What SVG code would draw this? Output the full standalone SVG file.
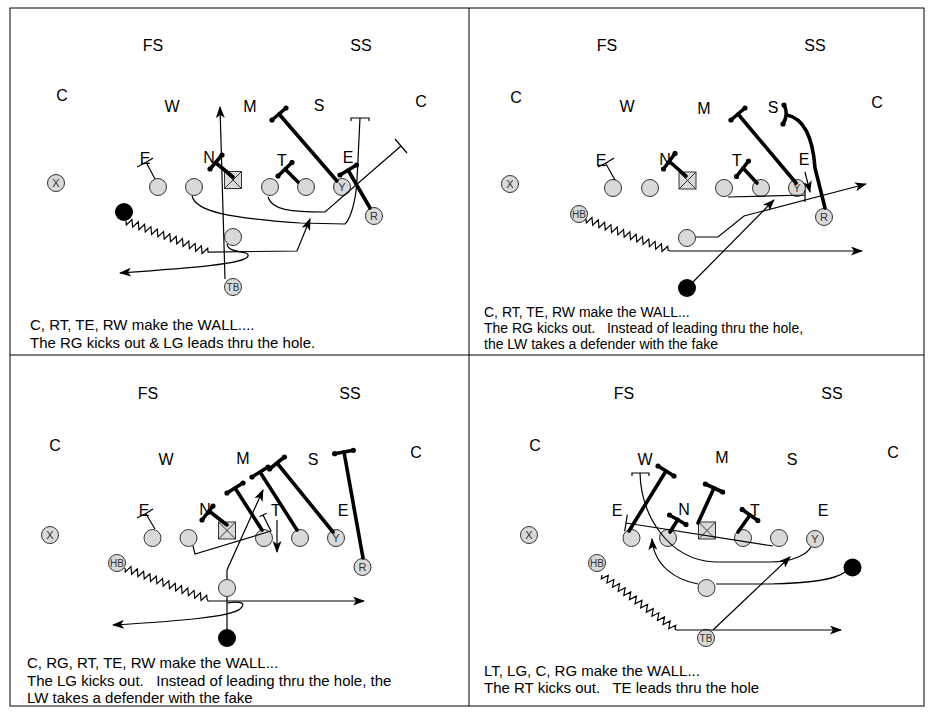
<svg xmlns="http://www.w3.org/2000/svg" width="931" height="713" viewBox="0 0 931 713">
<style>
.lbl{font-family:"Liberation Sans",Arial,sans-serif;font-size:16px;text-anchor:middle;fill:#000}
.cap{font-family:"Liberation Sans",Arial,sans-serif;font-size:15px;fill:#000;white-space:pre}
.cap2{font-family:"Liberation Sans",Arial,sans-serif;font-size:14px;fill:#000;white-space:pre}
.pl{fill:#d9d9d9;stroke:#333;stroke-width:1}
.bk{fill:#000}
.pt{font-family:"Liberation Sans",Arial,sans-serif;font-size:11px;text-anchor:middle;fill:#333}
.ps{font-family:"Liberation Sans",Arial,sans-serif;font-size:10px;text-anchor:middle;fill:#333}
.thin{fill:none;stroke:#000;stroke-width:1.2}
.arr{marker-end:url(#ah)}
.thick{fill:none;stroke:#000;stroke-width:3.6;stroke-linecap:round}
.bar{fill:none;stroke:#000;stroke-width:3.6;stroke-linecap:round;marker-start:url(#dt);marker-end:url(#dt)}
.frame{fill:none;stroke:#000;stroke-width:1}
</style>
<defs>
<marker id="ah" viewBox="0 0 12 9" refX="11" refY="4.5" markerWidth="12" markerHeight="9" markerUnits="userSpaceOnUse" orient="auto"><path d="M0,0 L12,4.5 L0,9 L3,4.5 z" fill="#000"/></marker>
<marker id="dt" viewBox="-3 -3 6 6" refX="0" refY="0" markerWidth="6" markerHeight="6" markerUnits="userSpaceOnUse"><circle r="2.6" fill="#000"/></marker>
<g id="boxC"><rect x="0" y="0" width="17" height="17" fill="#d9d9d9" stroke="#333" stroke-width="1"/><path d="M0,0 L17,17 M17,0 L0,17" stroke="#333" stroke-width="1"/></g>
</defs>
<rect width="931" height="713" fill="#fff"/>
<g id="frame">
<rect class="frame" x="10" y="8" width="914" height="698"/>
<line class="frame" x1="469" y1="8" x2="469" y2="706"/>
<line class="frame" x1="10" y1="355" x2="924" y2="355"/>
</g>

<!-- Quadrant 1 -->
<g id="q1-defense">
<text class="lbl" x="153" y="51">FS</text>
<text class="lbl" x="361" y="51">SS</text>
<text class="lbl" x="62" y="101">C</text>
<text class="lbl" x="421" y="107">C</text>
<text class="lbl" x="172" y="112">W</text>
<text class="lbl" x="250" y="112">M</text>
<text class="lbl" x="319" y="111">S</text>
<text class="lbl" x="145" y="164">E</text>
<text class="lbl" x="209" y="163">N</text>
<text class="lbl" x="282" y="166">T</text>
<text class="lbl" x="348" y="163">E</text>
</g>
<g id="q1-X"><circle class="pl" cx="56" cy="183" r="8.5"/><text class="pt" x="56" y="187">X</text></g>
<g id="q1-LT"><circle class="pl" cx="158" cy="187" r="8.5"/></g>
<g id="q1-LG"><circle class="pl" cx="194" cy="187" r="8.5"/></g>
<g id="q1-C"><use href="#boxC" x="224.5" y="171.5"/></g>
<g id="q1-RG"><circle class="pl" cx="270" cy="187" r="8.5"/></g>
<g id="q1-RT"><circle class="pl" cx="306" cy="187" r="8.5"/></g>
<g id="q1-Y"><circle class="pl" cx="342" cy="187" r="8.5"/><text class="pt" x="342" y="191">Y</text></g>
<g id="q1-R"><circle class="pl" cx="374" cy="216" r="8.5"/><text class="pt" x="374" y="220">R</text></g>
<g id="q1-LW"><circle class="bk" cx="124" cy="212" r="9"/></g>
<g id="q1-QB"><circle class="pl" cx="233" cy="237" r="8.5"/></g>
<g id="q1-TB"><circle class="pl" cx="233" cy="287" r="8.5"/><text class="ps" x="233" y="290.5">TB</text></g>
<text class="cap" x="30" y="330">C, RT, TE, RW make the WALL....</text>
<text class="cap" x="30" y="348">The RG kicks out &amp; LG leads thru the hole.</text>

<!-- Quadrant 2 -->
<g id="q2-defense">
<text class="lbl" x="607" y="51">FS</text>
<text class="lbl" x="815" y="51">SS</text>
<text class="lbl" x="516" y="103">C</text>
<text class="lbl" x="877" y="108">C</text>
<text class="lbl" x="627" y="112">W</text>
<text class="lbl" x="704" y="114">M</text>
<text class="lbl" x="773" y="113">S</text>
<text class="lbl" x="601" y="166">E</text>
<text class="lbl" x="665" y="165">N</text>
<text class="lbl" x="737" y="166">T</text>
<text class="lbl" x="804" y="165">E</text>
</g>
<g id="q2-X"><circle class="pl" cx="510" cy="184" r="8.5"/><text class="pt" x="510" y="188">X</text></g>
<g id="q2-LT"><circle class="pl" cx="613" cy="188" r="8.5"/></g>
<g id="q2-LG"><circle class="pl" cx="650" cy="188" r="8.5"/></g>
<g id="q2-C"><use href="#boxC" x="679" y="172"/></g>
<g id="q2-RG"><circle class="pl" cx="724" cy="188" r="8.5"/></g>
<g id="q2-RT"><circle class="pl" cx="761" cy="188" r="8.5"/></g>
<g id="q2-Y"><circle class="pl" cx="797" cy="188" r="8.5"/><text class="pt" x="797" y="192">Y</text></g>
<g id="q2-R"><circle class="pl" cx="824" cy="217" r="8.5"/><text class="pt" x="824" y="221">R</text></g>
<g id="q2-HB"><circle class="pl" cx="579" cy="214" r="8.5"/><text class="ps" x="579" y="217.5">HB</text></g>
<g id="q2-QB"><circle class="pl" cx="687" cy="238" r="8.5"/></g>
<g id="q2-LW"><circle class="bk" cx="687" cy="288" r="9"/></g>
<text class="cap2" x="484" y="317">C, RT, TE, RW make the WALL...</text>
<text class="cap2" x="484" y="333">The RG kicks out.   Instead of leading thru the hole,</text>
<text class="cap2" x="484" y="349">the LW takes a defender with the fake</text>

<!-- Quadrant 3 -->
<g id="q3-defense">
<text class="lbl" x="148" y="399">FS</text>
<text class="lbl" x="350" y="399">SS</text>
<text class="lbl" x="55" y="451">C</text>
<text class="lbl" x="416" y="458">C</text>
<text class="lbl" x="166" y="465">W</text>
<text class="lbl" x="243" y="464">M</text>
<text class="lbl" x="313" y="465">S</text>
<text class="lbl" x="144" y="516">E</text>
<text class="lbl" x="205" y="515">N</text>
<text class="lbl" x="276" y="516">T</text>
<text class="lbl" x="343" y="516">E</text>
</g>
<g id="q3-X"><circle class="pl" cx="50" cy="535" r="8.5"/><text class="pt" x="50" y="539">X</text></g>
<g id="q3-LT"><circle class="pl" cx="152.5" cy="538" r="8.5"/></g>
<g id="q3-LG"><circle class="pl" cx="188.5" cy="538" r="8.5"/></g>
<g id="q3-C"><use href="#boxC" x="218.5" y="522"/></g>
<g id="q3-RG"><circle class="pl" cx="264" cy="538" r="8.5"/></g>
<g id="q3-RT"><circle class="pl" cx="300" cy="538" r="8.5"/></g>
<g id="q3-Y"><circle class="pl" cx="336" cy="538" r="8.5"/><text class="pt" x="336" y="542">Y</text></g>
<g id="q3-R"><circle class="pl" cx="362.5" cy="567" r="8.5"/><text class="pt" x="362.5" y="571">R</text></g>
<g id="q3-HB"><circle class="pl" cx="117" cy="563" r="8.5"/><text class="ps" x="117" y="566.5">HB</text></g>
<g id="q3-QB"><circle class="pl" cx="227" cy="588" r="8.5"/></g>
<g id="q3-LW"><circle class="bk" cx="227" cy="638" r="9"/></g>
<text class="cap" x="27" y="668">C, RG, RT, TE, RW make the WALL...</text>
<text class="cap" x="27" y="686">The LG kicks out.   Instead of leading thru the hole, the</text>
<text class="cap" x="27" y="703">LW takes a defender with the fake</text>

<!-- Quadrant 4 -->
<g id="q4-defense">
<text class="lbl" x="624" y="399">FS</text>
<text class="lbl" x="832" y="399">SS</text>
<text class="lbl" x="535" y="451">C</text>
<text class="lbl" x="893" y="458">C</text>
<text class="lbl" x="645" y="465">W</text>
<text class="lbl" x="722" y="463">M</text>
<text class="lbl" x="792" y="465">S</text>
<text class="lbl" x="617" y="516">E</text>
<text class="lbl" x="684" y="515">N</text>
<text class="lbl" x="755" y="516">T</text>
<text class="lbl" x="823" y="516">E</text>
</g>
<g id="q4-X"><circle class="pl" cx="529" cy="535" r="8.5"/><text class="pt" x="529" y="539">X</text></g>
<g id="q4-LT"><circle class="pl" cx="631.5" cy="538" r="8.5"/></g>
<g id="q4-LG"><circle class="pl" cx="668" cy="538" r="8.5"/></g>
<g id="q4-C"><use href="#boxC" x="698.5" y="522"/></g>
<g id="q4-RG"><circle class="pl" cx="743" cy="538" r="8.5"/></g>
<g id="q4-RT"><circle class="pl" cx="779" cy="538" r="8.5"/></g>
<g id="q4-Y"><circle class="pl" cx="815" cy="539" r="8.5"/><text class="pt" x="815" y="543">Y</text></g>
<g id="q4-HB"><circle class="pl" cx="597" cy="563" r="8.5"/><text class="ps" x="597" y="566.5">HB</text></g>
<g id="q4-FB"><circle class="pl" cx="706.5" cy="588" r="8.5"/></g>
<g id="q4-TB"><circle class="pl" cx="706" cy="638" r="8.5"/><text class="ps" x="706" y="641.5">TB</text></g>
<g id="q4-LW"><circle class="bk" cx="852.5" cy="567.5" r="9"/></g>
<text class="cap" x="484" y="676">LT, LG, C, RG make the WALL...</text>
<text class="cap" x="484" y="693">The RT kicks out.   TE leads thru the hole</text>

<g id="connectors">
<!-- Q1 -->
<path class="thin" d="M155,179 L147,164 M137,167 Q146,163 153,158"/>
<path class="thick" d="M233,177 L216,163"/><path class="bar" d="M210,169 L222,155"/>
<path class="thick" d="M298,182 L285,169"/><path class="bar" d="M278,176 L292,162.5"/>
<path class="thick" d="M337,181 L279,114"/><path class="bar" d="M272,120 L286,108"/>
<path class="thick" d="M370,208 L348,170"/><path class="bar" d="M340,175 L356.5,165"/>
<path class="thin arr" d="M225,279 L220,107"/>
<path class="thin arr" d="M126,221 l0.34,3.87 l5.63,-5.35l0.68,7.74l5.63,-5.35l0.68,7.74l5.63,-5.35l0.68,7.74l5.63,-5.35l0.68,7.74l5.63,-5.35l0.68,7.74l5.63,-5.35l0.68,7.74l5.63,-5.35l0.68,7.74l5.63,-5.35l0.68,7.74l5.63,-5.35l0.68,7.74l5.63,-5.35l0.68,7.74l5.63,-5.35l0.68,7.74l5.63,-5.35l0.68,7.74 l5.63,-5.35 l0.34,3.87 L297,251 L310,219"/>
<path class="thin arr" d="M227,244 C228,254 250,250 248,256 C246,264 190,268 120,273"/>
<path class="thin" d="M192,196 C196,212 230,218 300,223 L345,224 C351,218 356,200 357,180 L360,118 M351,121 L351,118 L369,118 L369,121"/>
<path class="thin" d="M268,197 C272,210 290,212 325,212 L401,146 M395,139 L407,153"/>
<!-- Q2 -->
<path class="thin" d="M615,180 L606,164 M598,167 Q607,163 614,158"/>
<path class="thick" d="M686,176 L670,162"/><path class="bar" d="M663.5,169 L675,153.5"/>
<path class="thick" d="M757,183 L743,168"/><path class="bar" d="M736.5,176.5 L748.5,161"/>
<path class="thick" d="M796,183 L738,114"/><path class="bar" d="M731,120 L745,108"/>
<path class="thick" d="M825,208 L815,168 C813,140 806,119 787,115"/><path class="bar" d="M784,105 Q789,114 783,124"/>
<path class="thin arr" d="M805,172 L810,192"/>
<path class="thin" d="M728,197 L805,195 M805,190 L805,202"/>
<path class="thin arr" d="M586,219 l0.34,3.87 l5.63,-5.35l0.68,7.74l5.63,-5.35l0.68,7.74l5.63,-5.35l0.68,7.74l5.63,-5.35l0.68,7.74l5.63,-5.35l0.68,7.74l5.63,-5.35l0.68,7.74l5.63,-5.35l0.68,7.74l5.63,-5.35l0.68,7.74l5.63,-5.35l0.68,7.74l5.63,-5.35l0.68,7.74l5.63,-5.35l0.68,7.74l5.63,-5.35l0.68,7.74 l5.63,-5.35 l0.34,3.87 L670,251 L862,251"/>
<path class="thin arr" d="M696,237 L718,237 L744,216 L866,184"/>
<path class="thin arr" d="M693,282 L774,200"/>
<!-- Q3 -->
<path class="thin" d="M155,529 L146,514 M137,518 Q146,514 153,509"/>
<path class="thick" d="M227,525 L209,511"/><path class="bar" d="M202,520 L213,506"/>
<path class="thick" d="M262,530 L235,488"/><path class="bar" d="M227,493 L243,483"/>
<path class="thick" d="M297,530 L260,472"/><path class="bar" d="M252,477 L268,467"/>
<path class="thick" d="M333,532 L277,463"/><path class="bar" d="M269.6,469 L284.4,457"/>
<path class="thick" d="M363,558 L344,452"/><path class="bar" d="M334.7,453.7 L353.3,450.3"/>
<path class="thin arr" d="M277,520 L277,552"/>
<path class="thin" d="M193,546 L195,554 L271,531 L263,515 M259.4,516.8 L266.6,513.2"/>
<path class="thin arr" d="M227,579 L227,570 L263,490"/>
<path class="thin" d="M227,597 L227,630"/>
<path class="thin arr" d="M227,603 C238,601 248,602 240,609 C230,617 180,621 113,625"/>
<path class="thin arr" d="M125,568 l0.34,3.87 l5.63,-5.35l0.68,7.74l5.63,-5.35l0.68,7.74l5.63,-5.35l0.68,7.74l5.63,-5.35l0.68,7.74l5.63,-5.35l0.68,7.74l5.63,-5.35l0.68,7.74l5.63,-5.35l0.68,7.74l5.63,-5.35l0.68,7.74l5.63,-5.35l0.68,7.74l5.63,-5.35l0.68,7.74l5.63,-5.35l0.68,7.74l5.63,-5.35l0.68,7.74 l5.63,-5.35 l0.34,3.87 L208,601 L364,601"/>
<!-- Q4 -->
<path class="thin" d="M773,546 L626,523 M627.3,514.6 L624.7,531.4"/>
<path class="thick" d="M629,531 L666,471"/><path class="bar" d="M658,466 L674,476"/>
<path class="thick" d="M670,532 L678,519.5"/><path class="bar" d="M669.5,515 L686,524.5"/>
<path class="thick" d="M698,523 L714,488"/><path class="bar" d="M705.4,484 L722.6,492"/>
<path class="thick" d="M738,532 L750,515"/><path class="bar" d="M742.2,509.5 L757.8,520.5"/>
<path class="thin" d="M811,547 C808,553 795,562 770,562 L715,562 C668,560 641,515 640,473 M632,476 L632,473 L649,473 L649,476"/>
<path class="thin arr" d="M698,584 C676,580 654,566 652,539"/>
<path class="thin" d="M716,584 L770,584 C810,583 835,580 845,572"/>
<path class="thin arr" d="M602,575 l-0.68,3.85 l6.97,-3.54l-1.35,7.70l6.97,-3.54l-1.35,7.70l6.97,-3.54l-1.35,7.70l6.97,-3.54l-1.35,7.70l6.97,-3.54l-1.35,7.70l6.97,-3.54l-1.35,7.70l6.97,-3.54l-1.35,7.70l6.97,-3.54l-1.35,7.70l6.97,-3.54l-1.35,7.70l6.97,-3.54l-1.35,7.70l6.97,-3.54l-1.35,7.70l6.97,-3.54l-1.35,7.70 l6.97,-3.54 l-0.68,3.85 L676,630 L841,630"/>
<path class="thin arr" d="M713,630 L790,557"/>
</g>
</svg>
